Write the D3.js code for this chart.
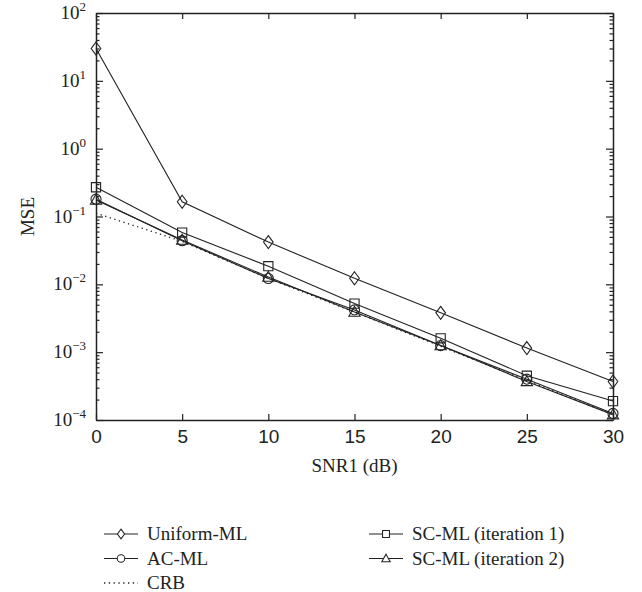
<!DOCTYPE html>
<html>
<head>
<meta charset="utf-8">
<script src="https://cdn.jsdelivr.net/npm/d3@7"></script>
<style>
  body { margin: 0; background: #fff; }
  svg { font-family: "Liberation Serif", "DejaVu Serif", serif; }
  .tick text { font-size: 19px; fill: #222; }
</style>
</head>
<body>
<div id="chart"></div>
<script>
const snr = [0, 5, 10, 15, 20, 25, 30]
const uniformML = [30, 0.165, 0.042, 0.0123, 0.0038, 0.00115, 0.00037]
const acML = [0.18, 0.044, 0.0122, 0.0042, 0.00125, 0.0004, 0.000125]
const scML1 = [0.27, 0.058, 0.0185, 0.0052, 0.0016, 0.00045, 0.00019]
const scML2 = [0.175, 0.045, 0.0128, 0.0039, 0.00125, 0.00037, 0.00012]
const crb = [0.112, 0.043, 0.0122, 0.0039, 0.00122, 0.00038, 0.00012]
const xTicks = [0, 5, 10, 15, 20, 25, 30]
const yExps = [-4, -3, -2, -1, 0, 1, 2]

const width = 642
const height = 592
const margin = {top: 13, right: 29, bottom: 172, left: 96}
const chartWidth = width - margin.left - margin.right
const chartHeight = height - margin.top - margin.bottom

const series = [
  {name: 'Uniform-ML', values: uniformML, marker: 'diamond'},
  {name: 'AC-ML', values: acML, marker: 'circle'},
  {name: 'SC-ML (iteration 1)', values: scML1, marker: 'square'},
  {name: 'SC-ML (iteration 2)', values: scML2, marker: 'triangle'},
  {name: 'CRB', values: crb, marker: null, dotted: true}
]

const x = d3.scaleLinear().domain([0, 30]).range([0, chartWidth])
const y = d3.scaleLog().domain([1e-4, 1e2]).range([chartHeight, 0])

const svg = d3.select('#chart').append('svg')
  .attr('width', width)
  .attr('height', height)

const g = svg.append('g')
  .attr('transform', `translate(${margin.left}, ${margin.top})`)

// minor log ticks
const minor = []
for (let e = -4; e < 2; e++) {
  for (let m = 2; m <= 9; m++) minor.push(m * Math.pow(10, e))
}

function markerPath(type) {
  if (type === 'diamond') return 'M0,-6.5L4.8,0L0,6.5L-4.8,0Z'
  if (type === 'square') return 'M-4.6,-4.6H4.6V4.6H-4.6Z'
  if (type === 'triangle') return 'M0,-5.8L5.6,4.2H-5.6Z'
  if (type === 'circle') return d3.symbol(d3.symbolCircle, 80)()
  return null
}

// axes
g.append('g')
  .attr('transform', `translate(0, ${chartHeight})`)
  .call(d3.axisBottom(x).tickValues(xTicks).tickSizeInner(-6).tickSizeOuter(0).tickPadding(10))
g.append('g')
  .call(d3.axisTop(x).tickValues(xTicks).tickSizeInner(-6).tickSizeOuter(0).tickFormat(''))

g.append('g')
  .call(d3.axisLeft(y).tickValues(yExps.map(e => Math.pow(10, e))).tickSizeInner(-7).tickSizeOuter(0).tickFormat(''))
g.append('g')
  .attr('transform', `translate(${chartWidth}, 0)`)
  .call(d3.axisRight(y).tickValues(yExps.map(e => Math.pow(10, e))).tickSizeInner(-7).tickSizeOuter(0).tickFormat(''))

g.append('g').call(d3.axisLeft(y).tickValues(minor).tickSizeInner(-3.5).tickSizeOuter(0).tickFormat(''))
  .select('.domain').remove()
g.append('g').attr('transform', `translate(${chartWidth}, 0)`)
  .call(d3.axisRight(y).tickValues(minor).tickSizeInner(-3.5).tickSizeOuter(0).tickFormat(''))
  .select('.domain').remove()

g.selectAll('.domain').attr('stroke', '#222').attr('stroke-width', 1.5)
g.selectAll('.tick line').attr('stroke', '#222').attr('stroke-width', 1.2)

// y tick labels with superscript exponents
const yLab = g.append('g').attr('class', 'tick')
yExps.forEach(e => {
  const t = yLab.append('text')
    .attr('x', -10)
    .attr('y', y(Math.pow(10, e)) + 6)
    .attr('text-anchor', 'end')
  t.append('tspan').text('10')
  t.append('tspan')
    .attr('dy', -8)
    .attr('font-size', 13)
    .text(e < 0 ? '\u2212' + Math.abs(e) : String(e))
})

// lines
const line = d3.line()
  .x((d, i) => x(snr[i]))
  .y(d => y(d))

const lines = g.append('g')
series.forEach(s => {
  lines.append('path')
    .datum(s.values)
    .attr('fill', 'none')
    .attr('stroke', '#222')
    .attr('stroke-width', s.dotted ? 1.3 : 1.1)
    .attr('stroke-dasharray', s.dotted ? '1.3,3.5' : null)
    .attr('d', line)
})

const dots = g.append('g')
series.filter(s => s.marker).forEach(s => {
  dots.selectAll(null)
    .data(s.values)
    .enter()
    .append('path')
    .attr('transform', (d, i) => `translate(${x(snr[i])}, ${y(d)})`)
    .attr('d', markerPath(s.marker))
    .attr('fill', 'none')
    .attr('stroke', '#222')
    .attr('stroke-width', 1.1)
})

// axis labels
svg.append('text')
  .attr('x', margin.left + chartWidth / 2)
  .attr('y', 472)
  .attr('text-anchor', 'middle')
  .attr('font-size', 19)
  .attr('fill', '#222')
  .text('SNR1 (dB)')

svg.append('text')
  .attr('transform', `translate(34, ${margin.top + chartHeight / 2}) rotate(-90)`)
  .attr('text-anchor', 'middle')
  .attr('font-size', 19)
  .attr('fill', '#222')
  .text('MSE')

// legend
const legendItems = [
  {s: series[0], col: 0, row: 0},
  {s: series[1], col: 0, row: 1},
  {s: series[4], col: 0, row: 2},
  {s: series[2], col: 1, row: 0},
  {s: series[3], col: 1, row: 1}
]
const legend = svg.append('g')
legendItems.forEach(item => {
  const lx = item.col === 0 ? 104 : 369
  const ly = 534 + item.row * 24.5
  const li = legend.append('g').attr('transform', `translate(${lx}, ${ly})`)
  li.append('line')
    .attr('x1', 0).attr('x2', 34)
    .attr('stroke', '#222')
    .attr('stroke-width', item.s.dotted ? 1.3 : 1.1)
    .attr('stroke-dasharray', item.s.dotted ? '1.3,3.5' : null)
  if (item.s.marker) {
    li.append('path')
      .attr('transform', 'translate(17, 0) scale(0.75)')
      .attr('d', markerPath(item.s.marker))
      .attr('fill', 'white')
      .attr('stroke', '#222')
      .attr('stroke-width', 1.4)
  }
  li.append('text')
    .attr('x', 43)
    .attr('y', 6)
    .attr('font-size', 19)
    .attr('fill', '#222')
    .text(item.s.name)
})
</script>
</body>
</html>
